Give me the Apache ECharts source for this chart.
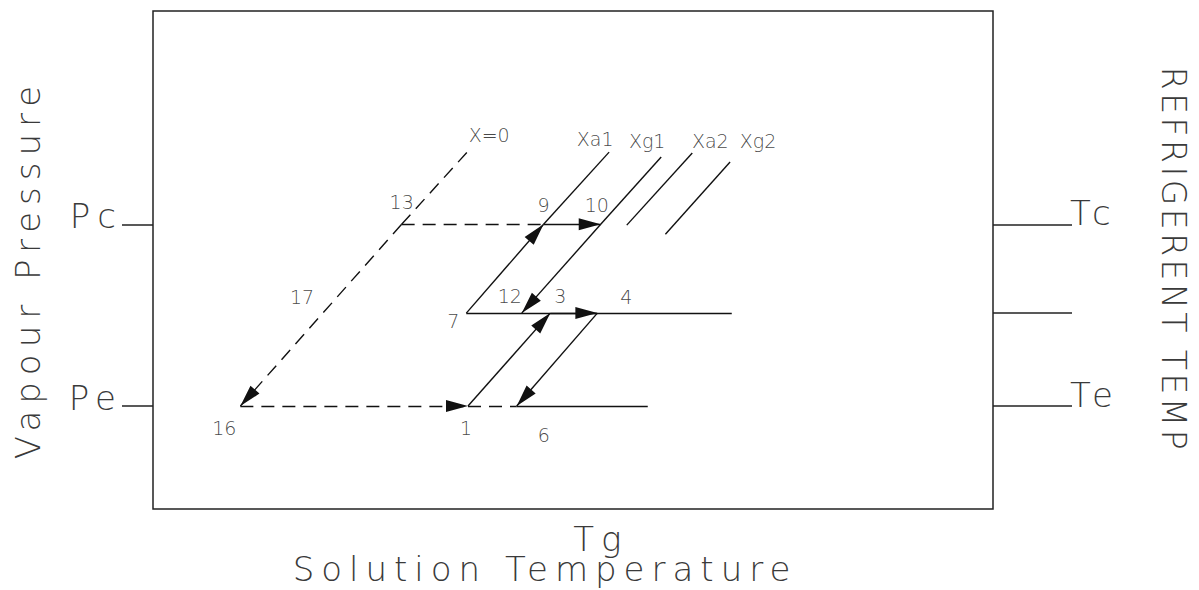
<!DOCTYPE html>
<html>
<head>
<meta charset="utf-8">
<script src="https://cdn.jsdelivr.net/npm/echarts@6/dist/echarts.min.js"></script>
<style>
html,body{margin:0;padding:0;background:#fff;}
#c{width:1199px;height:590px;}
#c text[style*="34px"]{letter-spacing:7px;}
#c text[style*="33px"]{letter-spacing:3.5px;}
</style>
</head>
<body>
<div id="c"></div>
<script>
// ---- data (diagram units: x = solution temperature, y = vapour pressure) ----
const stateNames = ['16', '1', '6', '7', '12', '3', '4', '13', '9', '10'];
const stateX     = [10.4, 37.5, 43.3, 37.3, 43.9, 47.3, 52.9, 29.6, 46.5, 53.3];
const stateY     = [12.4, 12.4, 12.4, 23.6, 23.6, 23.6, 23.6, 34.3, 34.3, 34.3];

const guideNames = ['PeEnd', 'PmEnd', 'X=0', 'Xa1', 'Xg1', 'Xa2lo', 'Xa2', 'Xg2lo', 'Xg2'];
const guideX     = [58.9, 68.9, 37.4, 54.3, 60.5, 56.4, 64.2, 61.0, 68.7];
const guideY     = [12.4, 23.6, 43.0, 43.0, 42.4, 34.2, 42.9, 33.1, 41.8];

const curveLabels = ['X=0', 'Xa1', 'Xg1', 'Xa2', 'Xg2'];

const levelValues        = [12.4, 23.6, 34.3];
const pressureTickLabels = ['Pe', '', 'Pc'];
const tempTickLabels     = ['Te', '', 'Tc'];
const tgValue = 53.3;
const tgLabel = 'Tg';

const solidArrows  = [['7', '9'], ['9', '10'], ['1', '3'], ['3', '4'], ['10', '12'], ['4', '6']];
const dashedArrows = [['13', '16'], ['16', '1']];
const solidPlain   = [['7', 'PmEnd'], ['6', 'PeEnd'], ['9', 'Xa1'], ['10', 'Xg1'], ['Xa2lo', 'Xa2'], ['Xg2lo', 'Xg2']];
const dashedPlain  = [['13', '9'], ['1', '6'], ['13', 'X=0']];
const pathLabels   = [['17', '13', '16']];

// ---- styles ----
const FONT = 'DejaVu Sans';
const TXT = '#3a3a3a';
const LINE = '#111';
const stateLabelOffset = {
  '16': [-16, 22], '1': [-2, 22], '6': [27, 29], '7': [-13, 8], '12': [-12, -17],
  '3': [10, -17], '4': [29, -16], '13': [0, -22], '9': [0, -19], '10': [-4, -19]
};
const curveLabelOffset = { 'X=0': [22, -17], 'Xa1': [-14, -13], 'Xg1': [-14, -16], 'Xa2': [18, -12], 'Xg2': [28, -21] };
const pathLabelOffset = { '17': [-19, -18] };

// ---- helpers ----
const pts = {};
stateNames.forEach((n, i) => { pts[n] = [stateX[i], stateY[i]]; });
guideNames.forEach((n, i) => { pts[n] = [guideX[i], guideY[i]]; });
const seg = list => list.map(([a, b]) => ({ coords: [pts[a], pts[b]] }));

const ARROW = 'path://M6,0L6,0.01M6,22L12,44L0,44Z';
function linesSeries(list, dashed, arrow) {
  return {
    type: 'lines', coordinateSystem: 'cartesian2d', xAxisIndex: 0, yAxisIndex: 0,
    polyline: false, silent: true, z: arrow ? 4 : 3,
    symbol: arrow ? ['none', ARROW] : ['none', 'none'],
    symbolSize: arrow ? [1, [12, 44]] : 1,
    lineStyle: { color: LINE, width: 1.4, opacity: 1, curveness: 0, type: dashed ? [13, 8] : 'solid' },
    data: seg(list)
  };
}

const labelStyle = { fontFamily: FONT, fontSize: 19, fontWeight: 200, color: '#151515' };
const stateLabelData = stateNames.map((n, i) => ({
  value: [stateX[i], stateY[i]], name: n,
  label: { offset: stateLabelOffset[n] }
}));
const curveLabelData = curveLabels.map(n => ({
  value: pts[n], name: n, label: { offset: curveLabelOffset[n] }
}));
const pathLabelData = pathLabels.map(([n, a, b]) => ({
  value: [(pts[a][0] + pts[b][0]) / 2, (pts[a][1] + pts[b][1]) / 2], name: n,
  label: { offset: pathLabelOffset[n] }
}));

const bigText = { fontFamily: FONT, fontSize: 34, fontWeight: 200, color: TXT };
const chart = echarts.init(document.getElementById('c'), null, { renderer: 'svg' });
chart.setOption({
  animation: false,
  backgroundColor: '#fff',
  grid: {
    left: 153, top: 11, right: 206, bottom: 81, containLabel: false, outerBoundsMode: 'none',
    show: true, borderColor: '#222', borderWidth: 1.5, backgroundColor: 'transparent'
  },
  xAxis: {
    type: 'value', min: 0, max: 100,
    axisLine: { show: false }, axisTick: { show: false }, splitLine: { show: false },
    axisLabel: {
      show: true, customValues: [tgValue], formatter: () => tgLabel, margin: 17,
      ...bigText, lineHeight: 26
    },
    name: 'Solution Temperature', nameLocation: 'middle', nameGap: 47, nameMoveOverlap: false,
    nameTextStyle: { ...bigText, lineHeight: 26, padding: [0, 56, 0, 0] }
  },
  yAxis: [
    {
      type: 'value', position: 'left', min: 0, max: 60,
      axisLine: { show: false }, splitLine: { show: false },
      axisTick: { show: true, length: 31, customValues: [levelValues[0], levelValues[2]], lineStyle: { color: '#222', width: 1.5 } },
      axisLabel: {
        show: true, customValues: [levelValues[0], levelValues[2]], margin: 30,
        formatter: v => pressureTickLabels[levelValues.indexOf(v)],
        ...bigText, verticalAlign: 'bottom', lineHeight: 17
      },
      name: 'Vapour Pressure', nameLocation: 'middle', nameGap: 108, nameRotate: 90, nameMoveOverlap: false,
      nameTextStyle: { ...bigText, padding: [0, 18, 0, 0] }
    },
    {
      type: 'value', position: 'right', min: 0, max: 60,
      axisLine: { show: false }, splitLine: { show: false },
      axisTick: { show: true, length: 79, customValues: levelValues, lineStyle: { color: '#222', width: 1.5 } },
      axisLabel: {
        show: true, customValues: [levelValues[0], levelValues[2]], margin: 77,
        formatter: v => tempTickLabels[levelValues.indexOf(v)],
        ...bigText, verticalAlign: 'bottom', lineHeight: 23
      },
      name: 'REFRIGERENT TEMP', nameLocation: 'middle', nameGap: 164, nameRotate: -90, nameMoveOverlap: false,
      nameTextStyle: { ...bigText, fontSize: 33 }
    }
  ],
  series: [
    linesSeries(solidPlain, false, false),
    linesSeries(dashedPlain, true, false),
    linesSeries(solidArrows, false, true),
    linesSeries(dashedArrows, true, true),
    {
      type: 'scatter', silent: true, symbol: 'circle', symbolSize: 1, z: 5,
      itemStyle: { color: 'transparent' },
      label: { show: true, position: 'inside', align: 'center', verticalAlign: 'middle', formatter: p => p.name, ...labelStyle },
      data: stateLabelData.concat(curveLabelData, pathLabelData)
    }
  ]
});
</script>
</body>
</html>
